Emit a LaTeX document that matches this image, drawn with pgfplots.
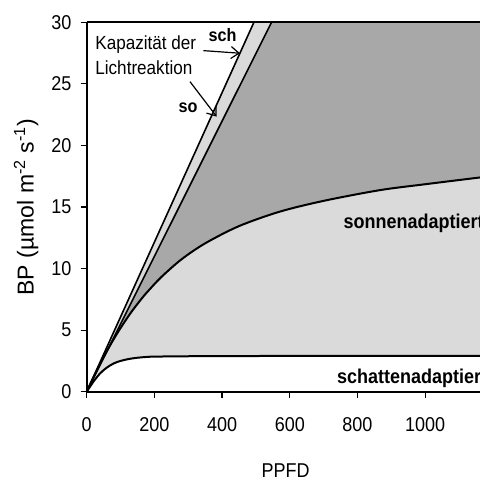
\documentclass[border=0pt]{standalone}
\usepackage{fontspec}
\setmainfont{Liberation Sans}[FakeStretch=0.9]
\newfontfamily\labelfont{Liberation Sans}
\usepackage{pgfplots}
\pgfplotsset{compat=1.18}
\usepgfplotslibrary{fillbetween}
\usetikzlibrary{arrows.meta}
\definecolor{darkfill}{gray}{0.66}
\definecolor{lightfill}{gray}{0.855}

\begin{document}
\begin{tikzpicture}
\begin{axis}[
  name=ax,
  set layers,
  scale only axis,
  width=196.65pt, height=184.7pt,
  xmin=0, xmax=1162, ymin=0, ymax=30,
  axis x line*=bottom, axis y line*=left,
  axis line style={line width=1pt, black},
  xtick={0,200,...,1000}, ytick={0,5,...,30},
  tick align=outside, major tick length=3pt,
  tick style={line width=0.6pt, black},
  /pgf/number format/assume math mode=true,
  /pgf/number format/set thousands separator={},
  ticklabel style={font=\fontsize{10}{12}\selectfont},
  xticklabel style={inner sep=0pt, anchor=north, yshift=-9.85pt},
  yticklabel style={inner sep=0pt, anchor=east, xshift=-4.5pt},
  xlabel={PPFD},
  ylabel={BP (µmol m\textsuperscript{-2} s\textsuperscript{-1})},
  xlabel style={font=\fontsize{10}{12}\selectfont, at={(axis description cs:0.506,-0.2317)}, anchor=base, inner sep=0pt},
  ylabel style={font=\labelfont\fontsize{11.5}{13}\selectfont, at={(axis description cs:-0.154,0.5)}, anchor=center, inner sep=0pt},
  clip=false,
]
% upper bounds of the shaded regions (capacity lines, then top of the frame)
\addplot[name path=upL, draw=none, forget plot] coordinates {(0,0) (494,30) (1162,30)};
\addplot[name path=upR, draw=none, forget plot] coordinates {(0,0) (546,30) (1162,30)};
% sun-adapted curve
\addplot[name path=sun, black, line width=1pt, smooth] coordinates {
 (0,0) (20,1.18) (40,2.28) (60,3.31) (80,4.28) (100,5.17) (130,6.4) (160,7.48)
 (180,8.13) (220,9.3) (280,10.75) (350,12.05) (450,13.45) (570,14.62)
 (700,15.5) (866,16.37) (1000,16.85) (1162,17.4)};
% shade-adapted curve
\addplot[name path=shade, black, line width=1pt, smooth] coordinates {
 (0,0) (20,0.82) (40,1.5) (60,1.97) (80,2.3) (100,2.5) (125,2.66) (150,2.76)
 (175,2.82) (200,2.85) (300,2.88) (500,2.9) (1162,2.92)};
\addplot[lightfill, draw=none] fill between[of=upL and shade];
\addplot[darkfill, draw=none] fill between[of=upR and sun];
% capacity of the light reaction
\addplot[black, line width=0.8pt] coordinates {(0,0) (494,30)};
\addplot[black, line width=0.8pt] coordinates {(0,0) (546,30)};
\draw[line width=1pt] (axis cs:0,30) -- (axis cs:1162,30);
% annotations
\node[anchor=base west, inner sep=0pt, font=\fontsize{9.5}{11}\selectfont] at (axis cs:24.5,27.76) {Kapazität der};
\node[anchor=base west, inner sep=0pt, font=\fontsize{9.5}{11}\selectfont] at (axis cs:24.5,25.78) {Lichtreaktion};
\node[anchor=base west, inner sep=0pt, font=\fontsize{9}{11}\selectfont\bfseries] at (axis cs:359.2,28.43) {sch};
\node[anchor=base west, inner sep=0pt, font=\fontsize{9}{11}\selectfont\bfseries] at (axis cs:270.6,22.7) {so};
\node[anchor=base west, inner sep=0pt, font=\fontsize{10}{12}\selectfont\bfseries] at (axis cs:758,13.27) {sonnenadaptiert};
\node[anchor=base west, inner sep=0pt, font=\fontsize{10}{12}\selectfont\bfseries] at (axis cs:738.6,0.68) {schattenadaptiert};
\draw[line width=0.6pt, -{Straight Barb[length=4pt,width=6pt]}] (axis cs:344.5,27.7) -- (axis cs:452.9,27.49);
\draw[line width=0.6pt, -{Straight Barb[length=4pt,width=6pt]}] (axis cs:305.2,25.18) -- (axis cs:384,22.34);
\end{axis}
\pgfresetboundingbox
\path[use as bounding box] ([shift={(-43.35pt,-43.65pt)}]ax.south west) rectangle ([shift={(196.65pt,195.85pt)}]ax.south west);
\end{tikzpicture}
\end{document}
